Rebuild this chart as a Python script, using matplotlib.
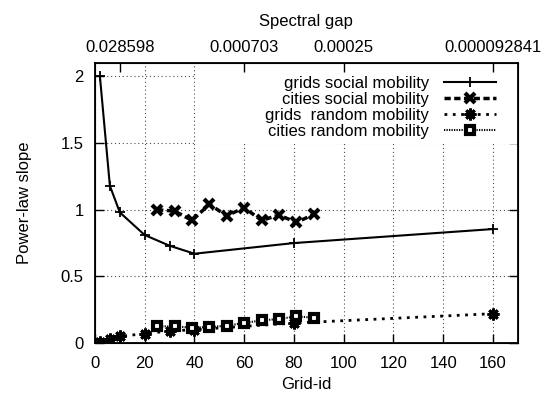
import matplotlib
matplotlib.use("Agg")
import matplotlib.pyplot as plt
from matplotlib.patches import Rectangle

plt.rcParams['font.family'] = ['Liberation Sans', 'DejaVu Sans']
plt.rcParams['font.size'] = 12

# grids (x = grid id)
grid_x = [2, 6, 10, 20, 30, 40, 80, 160]
grids_social = [2.0, 1.18, 0.98, 0.81, 0.73, 0.67, 0.75, 0.855]
grids_random = [0.01, 0.03, 0.05, 0.07, 0.09, 0.10, 0.15, 0.22]

# cities
city_x = [25, 32, 39, 46, 53, 60, 67, 74, 81, 88]
cities_social = [1.0, 0.99, 0.92, 1.04, 0.955, 1.015, 0.92, 0.96, 0.905, 0.965]
cities_random = [0.125, 0.125, 0.115, 0.12, 0.13, 0.15, 0.17, 0.18, 0.20, 0.19]

# top axis: spectral gap labels at given grid ids
gap_pos = [10, 60, 100, 160]
gap_labels = ['0.028598', '0.000703', '0.00025', '0.000092841']

fig = plt.figure(figsize=(5.52, 3.97), dpi=100)
ax = fig.add_axes([0.172, 0.136, 0.766, 0.705])

ax.plot(grid_x, grids_social, color='black', lw=1.5, marker='+', ms=7, mew=1.3,
        label='grids social mobility', zorder=4)
ax.plot(city_x, cities_social, color='black', lw=2.5, dashes=(1.8, 1.0), marker='x',
        ms=7, mew=3, label='cities social mobility', zorder=4)
ax.plot(grid_x, grids_random, color='black', lw=2, dashes=(1, 2), marker=(8, 2, 0),
        ms=8.5, mew=2, label='grids  random mobility', zorder=4)
ax.plot(city_x, cities_random, color='black', lw=1.5, dashes=(0.6, 0.6), marker='s',
        ms=5.8, mew=3, mfc='white', mec='black', label='cities random mobility', zorder=4)

ax.set_xlim(0, 170)
ax.set_ylim(0, 2.1)
ax.set_xticks(range(0, 161, 20))
ax.set_yticks([0, 0.5, 1, 1.5, 2])
ax.set_yticklabels(['0', '0.5', '1', '1.5', '2'])
ax.grid(True, color='black', lw=0.8, linestyle=(0, (1, 2.5)), alpha=0.7)
ax.set_axisbelow(True)
ax.tick_params(direction='in', length=6.5, width=1, top=True, right=True)
ax.tick_params(axis='x', pad=9)
ax.tick_params(axis='y', pad=8)
for s in ax.spines.values():
    s.set_linewidth(1.3)

# opaque key box over the grid
ax.add_patch(Rectangle((0.238, 0.71), 0.762, 0.29, transform=ax.transAxes,
                       facecolor='white', edgecolor='none', zorder=1.5))

ax.set_xlabel('Grid-id', labelpad=5)
ax.set_ylabel('Power-law slope', labelpad=21)

top = ax.twiny()
top.set_xlim(ax.get_xlim())
top.set_xticks(gap_pos)
top.set_xticklabels(gap_labels)
top.tick_params(direction='in', length=6.5, width=1, pad=6)
top.set_xlabel('Spectral gap', labelpad=10)

leg = ax.legend(loc='upper right', bbox_to_anchor=(0.948, 0.955), markerfirst=False,
                frameon=False, borderpad=0, borderaxespad=0, handlelength=3.1,
                handletextpad=0.9, labelspacing=0.06, fontsize=12)
leg.set_zorder(5)

fig.savefig('out.png', dpi=100)
